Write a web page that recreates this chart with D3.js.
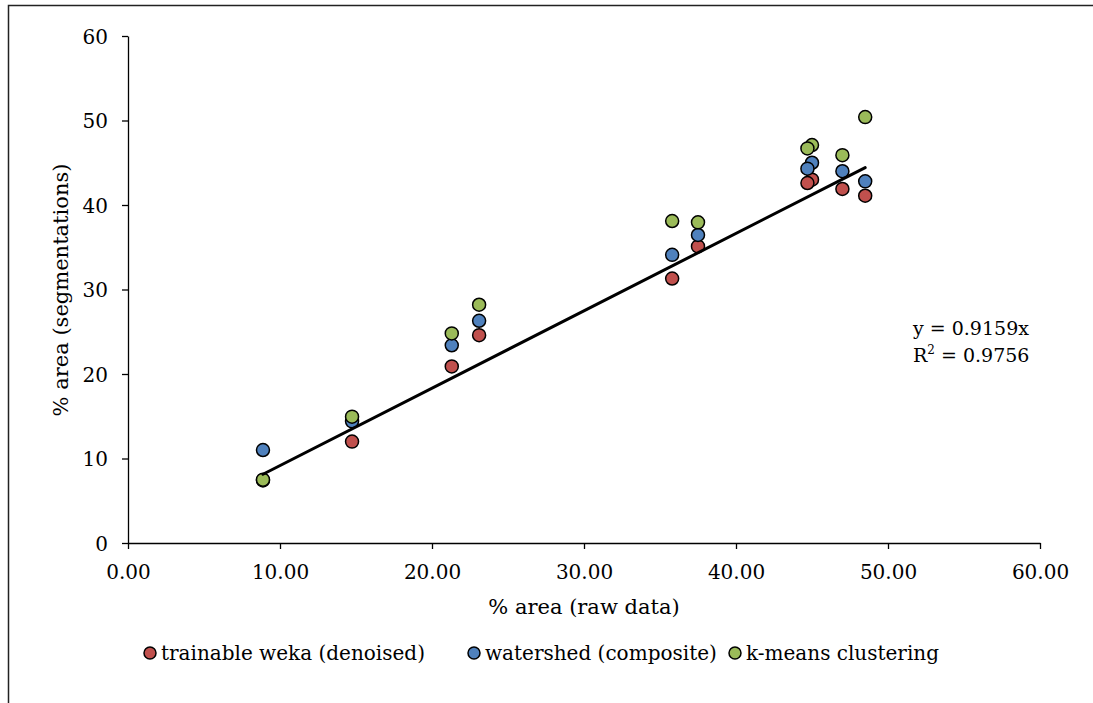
<!DOCTYPE html>
<html>
<head>
<meta charset="utf-8">
<script src="https://cdn.jsdelivr.net/npm/d3@7"></script>
<style>
  html, body { margin: 0; padding: 0; background: #fff; }
  svg { display: block; }
  text { font-family: "DejaVu Serif", "Liberation Serif", serif; fill: #000; }
</style>
</head>
<body>
<svg id="chart" width="1093" height="703"></svg>
<script>
// Percent area measured on raw images (x) and by each segmentation method (y)
const rawArea   = [8.88, 14.74, 21.3, 23.1, 35.8, 37.5, 45.0, 44.7, 47.0, 48.5];
const wekaArea  = [7.4, 12.0, 20.9, 24.6, 31.3, 35.1, 43.0, 42.6, 41.9, 41.1];
const shedArea  = [11.0, 14.4, 23.4, 26.3, 34.1, 36.45, 45.0, 44.3, 44.0, 42.8];
const kmArea    = [7.5, 14.95, 24.8, 28.2, 38.1, 37.95, 47.1, 46.7, 45.9, 50.4];

const seriesNames  = ["trainable weka (denoised)", "watershed (composite)", "k-means clustering"];
const seriesColors = ["#C0504D", "#4F81BD", "#9BBB59"];
const xTicks = [0, 10, 20, 30, 40, 50, 60];
const yTicks = [0, 10, 20, 30, 40, 50, 60];
const slope = 0.9159;
const rSquared = 0.9756;

const svg = d3.select("#chart");

// outer chart frame (runs off the right and bottom of the page)
svg.append("rect")
  .attr("x", 8.5).attr("y", 5.5)
  .attr("width", 1200).attr("height", 800)
  .attr("fill", "none").attr("stroke", "#222").attr("stroke-width", 1.5);

const x = d3.scaleLinear().domain([0, 60]).range([128, 1040]);
const y = d3.scaleLinear().domain([0, 60]).range([543, 36]);

// axes
const xAxis = d3.axisBottom(x).tickValues(xTicks).tickSize(6).tickSizeOuter(0)
  .tickFormat(d3.format(".2f"));
const yAxis = d3.axisLeft(y).tickValues(yTicks).tickSize(6).tickSizeOuter(0)
  .tickFormat(d3.format("d"));

const gx = svg.append("g").attr("transform", `translate(0,${y(0)})`).call(xAxis);
const gy = svg.append("g").attr("transform", `translate(${x(0)},0)`).call(yAxis);

[gx, gy].forEach(g => {
  g.select(".domain").attr("stroke", "#000").attr("stroke-width", 1.3);
  g.selectAll(".tick line").attr("stroke", "#000").attr("stroke-width", 1.3);
  g.selectAll(".tick text")
    .attr("font-family", "DejaVu Serif")
    .attr("font-size", 20)
    .attr("fill", "#000");
});
gx.selectAll(".tick text").attr("dy", null).attr("y", 36);
gy.selectAll(".tick text").attr("x", -20).attr("dy", "0.35em");

// axis titles
svg.append("text")
  .attr("x", 584).attr("y", 614)
  .attr("text-anchor", "middle")
  .attr("font-size", 21)
  .text("% area (raw data)");

svg.append("text")
  .attr("transform", "translate(68,290) rotate(-90)")
  .attr("text-anchor", "middle")
  .attr("font-size", 21)
  .text("% area (segmentations)");

// scatter points, one layer per method
const seriesValues = [wekaArea, shedArea, kmArea];
seriesValues.forEach((vals, si) => {
  svg.append("g")
    .selectAll("circle")
    .data(vals.map((v, i) => ({ x: rawArea[i], y: v })))
    .join("circle")
    .attr("cx", d => x(d.x))
    .attr("cy", d => y(d.y))
    .attr("r", 6.5)
    .attr("fill", seriesColors[si])
    .attr("stroke", "#000")
    .attr("stroke-width", 1.5);
});

// linear trendline through the origin, spanning the measured range
const xMin = d3.min(rawArea), xMax = d3.max(rawArea);
svg.append("line")
  .attr("x1", x(xMin)).attr("y1", y(slope * xMin))
  .attr("x2", x(xMax)).attr("y2", y(slope * xMax))
  .attr("stroke", "#000").attr("stroke-width", 3)
  .attr("stroke-linecap", "round");

// trendline equation
const eq = svg.append("text").attr("x", 913).attr("y", 335).attr("font-size", 19);
eq.append("tspan").text(`y = ${slope}x`);
const eq2 = svg.append("text").attr("x", 913).attr("y", 362).attr("font-size", 19);
eq2.append("tspan").text("R");
eq2.append("tspan").attr("font-size", 12).attr("dy", -8).text("2");
eq2.append("tspan").attr("dy", 8).text(` = ${rSquared}`);

// legend
const legendX = [150, 474, 735];
const legend = svg.append("g");
seriesNames.forEach((name, i) => {
  const g = legend.append("g").attr("transform", `translate(${legendX[i]},653)`);
  g.append("circle").attr("r", 6).attr("fill", seriesColors[i])
    .attr("stroke", "#000").attr("stroke-width", 1.5);
  g.append("text").attr("x", 11).attr("y", 7).attr("font-size", 20).text(name);
});
</script>
</body>
</html>
